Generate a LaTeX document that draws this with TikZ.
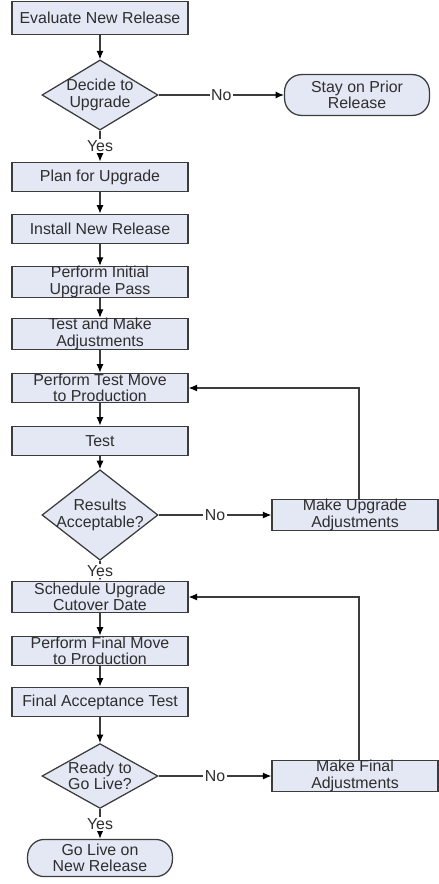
\documentclass[tikz,border=0pt]{standalone}
\usepackage{fontspec}
\setmainfont{Liberation Sans}
\usetikzlibrary{arrows.meta,shapes.geometric}
\definecolor{boxfill}{HTML}{E3E8F4}
\definecolor{edge}{HTML}{3C3C3C}
\definecolor{ink}{HTML}{2E2E2E}

\begin{document}
\begin{tikzpicture}[x=0.025cm,y=-0.025cm,
  font=\fontsize{11.3}{11.6}\selectfont, text=ink,
  box/.style={draw=edge,fill=boxfill,line width=0.9pt,inner sep=0pt,align=center,minimum width=4.4cm,minimum height=0.74cm},
  decision/.style={draw=edge,fill=boxfill,line width=0.9pt,diamond,inner sep=-5pt,align=center,minimum width=2.9cm,minimum height=1.62cm},
  terminal/.style={draw=edge,fill=boxfill,line width=0.9pt,rounded corners=12pt,inner sep=0pt,align=center,minimum width=3.62cm},
  flow/.style={draw=edge,line width=0.8pt,-{Latex[length=6pt,width=5pt,fill=black,color=black]}},
  tag/.style={fill=white,inner sep=1pt}]
  \useasboundingbox (0,0) rectangle (439,884);
  \node[box,minimum height=0.82cm] (evaluate) at (100,18) {Evaluate New Release};
  \node[decision] (decide) at (100,95) {Decide to\\Upgrade};
  \node[terminal,minimum height=1.02cm] (stay) at (357,95) {Stay on Prior\\Release};
  \node[box] (plan) at (100,177) {Plan for Upgrade};
  \node[box] (install) at (100,229) {Install New Release};
  \node[box] (initial) at (100,282) {Perform Initial\\Upgrade Pass};
  \node[box,minimum height=0.68cm] (adjust) at (100,334) {Test and Make\\Adjustments};
  \node[box] (testmove) at (100,388) {Perform Test Move\\to Production};
  \node[box] (test) at (100,441) {Test};
  \node[decision] (results) at (100,515) {Results\\Acceptable?};
  \node[box,minimum width=4.15cm,minimum height=0.78cm] (upgadj) at (355,515) {Make Upgrade\\Adjustments};
  \node[box,minimum height=0.78cm] (schedule) at (100,597) {Schedule Upgrade\\Cutover Date};
  \node[box] (finalmove) at (100,651) {Perform Final Move\\to Production};
  \node[box] (accept) at (100,702) {Final Acceptance Test};
  \node[decision] (ready) at (100,776) {Ready to\\Go Live?};
  \node[box,minimum width=4.15cm,minimum height=0.74cm] (finadj) at (355,776) {Make Final\\Adjustments};
  \node[terminal,minimum height=0.93cm] (golive) at (100,858) {Go Live on\\New Release};

  \draw[flow] (evaluate) -- (decide);
  \draw[flow] (decide) -- node[tag] {No} (stay);
  \draw[flow] (decide) -- node[tag] {Yes} (plan);
  \draw[flow] (plan) -- (install);
  \draw[flow] (install) -- (initial);
  \draw[flow] (initial) -- (adjust);
  \draw[flow] (adjust) -- (testmove);
  \draw[flow] (testmove) -- (test);
  \draw[flow] (test) -- (results);
  \draw[flow] (results) -- node[tag] {No} (upgadj);
  \draw[flow] ([xshift=0.1cm]upgadj.north) |- (testmove.east);
  \draw[flow] (results) -- node[tag] {Yes} (schedule);
  \draw[flow] (schedule) -- (finalmove);
  \draw[flow] (finalmove) -- (accept);
  \draw[flow] (accept) -- (ready);
  \draw[flow] (ready) -- node[tag] {No} (finadj);
  \draw[flow] ([xshift=0.1cm]finadj.north) |- (schedule.east);
  \draw[flow] (ready) -- node[tag] {Yes} (golive);
\end{tikzpicture}
\end{document}
